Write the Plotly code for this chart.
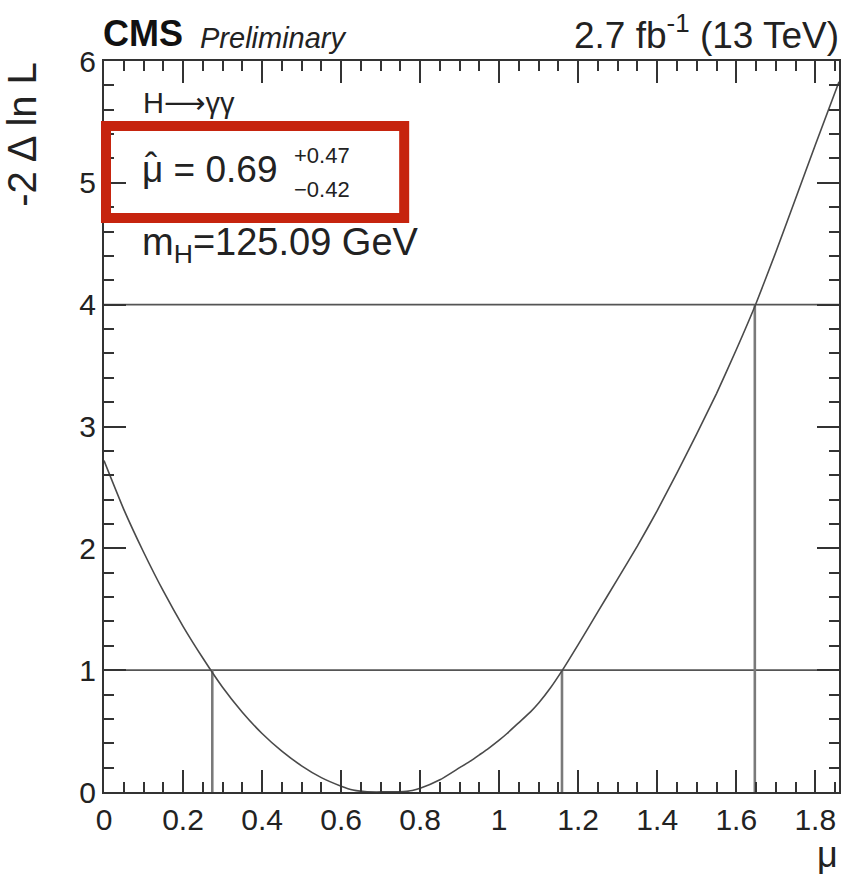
import plotly.graph_objects as go

# ---- data ----
mu = [0.00, 0.05, 0.10, 0.15, 0.20, 0.25, 0.30, 0.35, 0.40, 0.45, 0.50, 0.55,
      0.60, 0.63, 0.66, 0.69, 0.72, 0.75, 0.78, 0.80, 0.85, 0.90, 0.93, 0.95,
      0.97, 1.00, 1.02, 1.05, 1.08, 1.10, 1.13, 1.16, 1.20, 1.25, 1.30, 1.35,
      1.40, 1.45, 1.50, 1.55, 1.60, 1.65, 1.70, 1.75, 1.80, 1.86]
nll = [2.72, 2.32, 1.97, 1.65, 1.36, 1.10, 0.86, 0.655, 0.480, 0.335, 0.215, 0.118,
       0.048, 0.016, 0.003, 0.000, 0.002, 0.001, 0.012, 0.030, 0.100, 0.200, 0.260, 0.305,
       0.350, 0.425, 0.480, 0.570, 0.660, 0.730, 0.855, 1.000, 1.21, 1.48, 1.75, 2.02,
       2.31, 2.62, 2.94, 3.27, 3.63, 4.01, 4.43, 4.87, 5.31, 5.83]

levels = [1, 4]                       # horizontal reference lines
crossings_1sigma = [0.274, 1.159]     # where the scan crosses 1
crossings_2sigma = [1.647]            # where the scan crosses 4

x_range = [0, 1.86]
y_range = [0, 6]
x_ticks = [0, 0.2, 0.4, 0.6, 0.8, 1, 1.2, 1.4, 1.6, 1.8]
x_ticklabels = ["0", "0.2", "0.4", "0.6", "0.8", "1", "1.2", "1.4", "1.6", "1.8"]
y_ticks = [0, 1, 2, 3, 4, 5, 6]

W, H = 847, 878
L, R, T, B = 104, 6, 61, 86
PW, PH = W - L - R, H - T - B

def px(x):
    return (x - L) / PW

def py(y):
    return (H - B - y) / PH

FONT = "Liberation Sans, Arial, Helvetica, sans-serif"
fig = go.Figure()

# reference lines
for lv in levels:
    fig.add_trace(go.Scatter(x=x_range, y=[lv, lv], mode="lines",
                             line=dict(color="#555555", width=1.6),
                             hoverinfo="skip", showlegend=False))
for xc in crossings_1sigma:
    fig.add_trace(go.Scatter(x=[xc, xc], y=[0, levels[0]], mode="lines",
                             line=dict(color="#7a7a7a", width=2.6),
                             hoverinfo="skip", showlegend=False))
for xc in crossings_2sigma:
    fig.add_trace(go.Scatter(x=[xc, xc], y=[0, levels[1]], mode="lines",
                             line=dict(color="#7a7a7a", width=2.6),
                             hoverinfo="skip", showlegend=False))

# likelihood scan
fig.add_trace(go.Scatter(x=mu, y=nll, mode="lines",
                         line=dict(color="#4a4a4a", width=1.6, shape="spline", smoothing=0.5),
                         showlegend=False))

axis_common = dict(showgrid=False, zeroline=False, showline=True, linecolor="#333333",
                   linewidth=2, mirror="ticks", ticks="inside", tickcolor="#333333",
                   tickwidth=2, ticklen=22,
                   tickfont=dict(family=FONT, size=30, color="#222222"))

fig.update_xaxes(range=x_range, tickmode="array", tickvals=x_ticks, ticktext=x_ticklabels,
                 minor=dict(dtick=0.05, tick0=0, ticks="inside", ticklen=10,
                            tickcolor="#333333", tickwidth=1.6),
                 **axis_common)
fig.update_yaxes(range=y_range, tickmode="array", tickvals=y_ticks,
                 minor=dict(dtick=0.2, tick0=0, ticks="inside", ticklen=10,
                            tickcolor="#333333", tickwidth=1.6),
                 **axis_common)

ann = []
ann.append(dict(text="<b>CMS</b>", x=px(101), y=py(34), xanchor="left", yanchor="middle",
                font=dict(family=FONT, size=36, color="#111111")))
ann.append(dict(text="<i>Preliminary</i>", x=px(198), y=py(38), xanchor="left", yanchor="middle",
                font=dict(family=FONT, size=29, color="#222222")))
ann.append(dict(text="2.7 fb<sup>-1</sup> (13 TeV)", x=px(843), y=py(33), xanchor="right",
                yanchor="middle", font=dict(family=FONT, size=37, color="#222222")))
ann.append(dict(text="H<span style='font-family:DejaVu Sans'>⟶</span>γγ", x=px(141), y=py(103),
                xanchor="left", yanchor="middle",
                font=dict(family=FONT, size=29, color="#222222")))
ann.append(dict(text="μ = 0.69", x=px(140), y=py(169), xanchor="left", yanchor="middle",
                font=dict(family=FONT, size=37, color="#222222")))
ann.append(dict(text="\u02c6", x=px(143), y=py(166), xanchor="left", yanchor="middle",
                font=dict(family=FONT, size=37, color="#222222")))
ann.append(dict(text="+0.47", x=px(293), y=py(156), xanchor="left", yanchor="middle",
                font=dict(family=FONT, size=22, color="#222222")))
ann.append(dict(text="\u22120.42", x=px(293), y=py(189), xanchor="left", yanchor="middle",
                font=dict(family=FONT, size=22, color="#222222")))
ann.append(dict(text="m<sub>H</sub>=125.09 GeV", x=px(140), y=py(245), xanchor="left",
                yanchor="middle", font=dict(family=FONT, size=38, color="#222222")))
ann.append(dict(text="μ", x=px(842), y=py(877), xanchor="right", yanchor="bottom",
                font=dict(family=FONT, size=36, color="#222222")))
ann.append(dict(text="-2 Δ ln L", x=px(22), y=py(60), xanchor="center", yanchor="top",
                textangle=-90, font=dict(family=FONT, size=40, color="#222222")))
for a in ann:
    a.update(xref="paper", yref="paper", showarrow=False)
fig.update_layout(annotations=ann)

fig.add_shape(type="rect", xref="paper", yref="paper",
              x0=px(106), x1=px(405), y0=py(218), y1=py(126),
              line=dict(color="rgb(198,36,14)", width=10), fillcolor="rgba(0,0,0,0)")

fig.update_layout(width=W, height=H, margin=dict(l=L, r=R, t=T, b=B),
                  paper_bgcolor="white", plot_bgcolor="white",
                  font=dict(family=FONT))

fig.write_html("out.html")
